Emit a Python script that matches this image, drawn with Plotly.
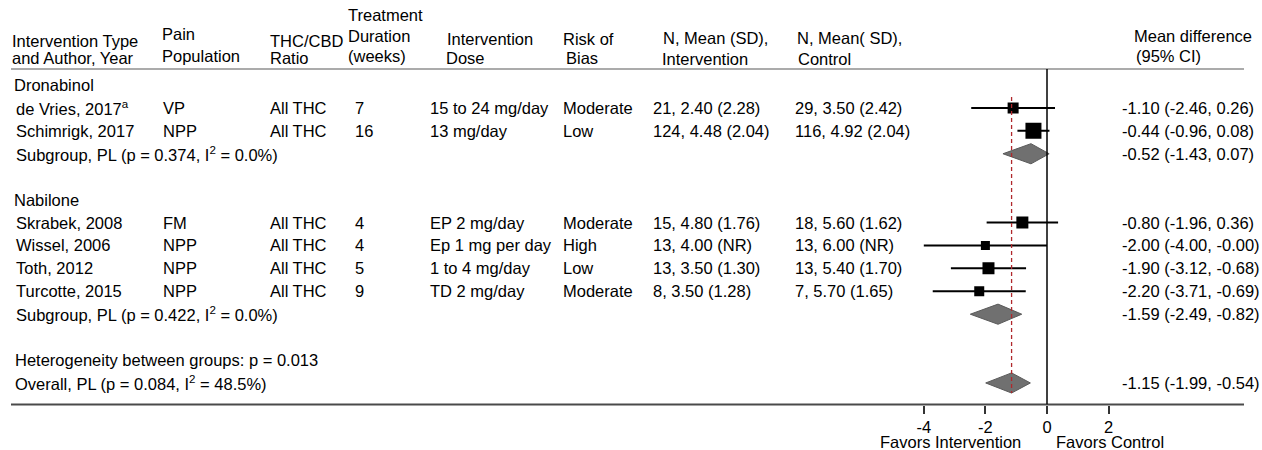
import plotly.graph_objects as go

# ---------------- data ----------------
groups = ["Dronabinol", "Nabilone"]
study = ["de Vries, 2017<sup>a</sup>", "Schimrigk, 2017", "Skrabek, 2008",
         "Wissel, 2006", "Toth, 2012", "Turcotte, 2015"]
study_group = ["Dronabinol", "Dronabinol", "Nabilone", "Nabilone", "Nabilone", "Nabilone"]
pain = ["VP", "NPP", "FM", "NPP", "NPP", "NPP"]
ratio = ["All THC", "All THC", "All THC", "All THC", "All THC", "All THC"]
duration = ["7", "16", "4", "4", "5", "9"]
dose = ["15 to 24 mg/day", "13 mg/day", "EP 2 mg/day", "Ep 1 mg per day",
        "1 to 4 mg/day", "TD 2 mg/day"]
bias = ["Moderate", "Low", "Moderate", "High", "Low", "Moderate"]
int_n = [21, 124, 15, 13, 13, 8]
int_mean = [2.40, 4.48, 4.80, 4.00, 3.50, 3.50]
int_sd = ["2.28", "2.04", "1.76", "NR", "1.30", "1.28"]
ctl_n = [29, 116, 18, 13, 13, 7]
ctl_mean = [3.50, 4.92, 5.60, 6.00, 5.40, 5.70]
ctl_sd = ["2.42", "2.04", "1.62", "NR", "1.70", "1.65"]
md = [-1.10, -0.44, -0.80, -2.00, -1.90, -2.20]
md_lo = [-2.46, -0.96, -1.96, -4.00, -3.12, -3.71]
md_hi = [0.26, 0.08, 0.36, -0.00, -0.68, -0.69]

sub_p = ["0.374", "0.422"]
sub_i2 = ["0.0", "0.0"]
sub_md = [-0.52, -1.59]
sub_lo = [-1.43, -2.49]
sub_hi = [0.07, -0.82]

het_p = "0.013"
overall_p = "0.084"
overall_i2 = "48.5"
overall_md = -1.15
overall_lo = -1.99
overall_hi = -0.54

tick_vals = [-4, -2, 0, 2]
tick_labels = ["-4", "-2", "0", "2"]

# ---------------- styles ----------------
W, H = 1262, 450
FONT = "Liberation Sans, Arial, sans-serif"
FS = 16.5
SQUARE_PX = [11, 16, 12, 9, 12, 10]
ROW0_PX, ROW_H = 85, 22.92
PLOT_BOTTOM_PX = 404.5
ZERO_PX, UNIT_PX = 1047, 30.8
XR = (-5.5, 3.5)


def px(x):
    return x / W


def py(y):
    return 1 - y / H


def fmt_ci(m, l, h):
    return f"{m:.2f} ({l:.2f}, {h:.2f})"


# row layout
r = 0
study_rows = []
sub_rows = []
group_rows = []
for gi, g in enumerate(groups):
    group_rows.append(r)
    r += 1
    for si, sg in enumerate(study_group):
        if sg == g:
            study_rows.append(r)
            r += 1
    sub_rows.append(r)
    r += 2
het_row = r
overall_row = r + 1

fig = go.Figure()

# CI lines + squares
fig.add_trace(go.Scatter(
    x=md, y=study_rows, mode="markers",
    marker=dict(symbol="square", size=SQUARE_PX, color="black", opacity=1,
                line=dict(width=0)),
    error_x=dict(type="data", symmetric=False,
                 array=[h - m for m, h in zip(md, md_hi)],
                 arrayminus=[m - l for m, l in zip(md, md_lo)],
                 width=0, thickness=2, color="black"),
    hoverinfo="skip", showlegend=False))

# diamonds
dx, dy = [], []
HALF = 0.44
for m, l, h, rr in zip(sub_md + [overall_md], sub_lo + [overall_lo],
                       sub_hi + [overall_hi], sub_rows + [overall_row]):
    dx += [l, m, h, m, l, None]
    dy += [rr, rr - HALF, rr, rr + HALF, rr, None]
fig.add_trace(go.Scatter(x=dx, y=dy, mode="lines", fill="toself",
                         fillcolor="#707070", line=dict(color="#5a5a5a", width=1),
                         hoverinfo="skip", showlegend=False))

ann = []


def txt(x, y, t, yref="y", xanchor="left"):
    ann.append(dict(x=px(x), y=y, xref="paper", yref=yref, text=t, showarrow=False,
                    xanchor=xanchor, yanchor="middle",
                    font=dict(family=FONT, size=FS, color="black")))


# headers
hdr = [
    (10, 41, "Intervention Type"), (10, 58, "and Author, Year"),
    (160, 34, "Pain"), (160, 56, "Population"),
    (268, 41, "THC/CBD"), (268, 58, "Ratio"),
    (346, 15, "Treatment"), (346, 36, "Duration"), (346, 56, "(weeks)"),
    (445, 39, "Intervention"), (444, 58, "Dose"),
    (561, 39, "Risk of"), (564, 58, "Bias"),
    (661, 38, "N, Mean (SD),"), (660, 59, "Intervention"),
    (795, 38, "N, Mean( SD),"), (796, 59, "Control"),
    (1132, 36, "Mean difference"), (1134, 56, "(95% CI)"),
]
for x, y, t in hdr:
    txt(x, py(y), t, yref="paper")

for g, rr in zip(groups, group_rows):
    txt(12, rr, g)

for i, rr in enumerate(study_rows):
    txt(14, rr, study[i])
    txt(161, rr, pain[i])
    txt(268, rr, ratio[i])
    txt(353, rr, duration[i])
    txt(428, rr, dose[i])
    txt(561, rr, bias[i])
    txt(651, rr, f"{int_n[i]}, {int_mean[i]:.2f} ({int_sd[i]})")
    txt(793, rr, f"{ctl_n[i]}, {ctl_mean[i]:.2f} ({ctl_sd[i]})")
    txt(1120, rr, fmt_ci(md[i], md_lo[i], md_hi[i]))

for i, rr in enumerate(sub_rows):
    txt(14, rr, f"Subgroup, PL (p = {sub_p[i]}, I<sup>2</sup> = {sub_i2[i]}%)")
    txt(1120, rr, fmt_ci(sub_md[i], sub_lo[i], sub_hi[i]))

txt(13, het_row, f"Heterogeneity between groups: p = {het_p}")
txt(13, overall_row, f"Overall, PL (p = {overall_p}, I<sup>2</sup> = {overall_i2}%)")
txt(1120, overall_row, fmt_ci(overall_md, overall_lo, overall_hi))

# axis captions
txt(950, py(442), "Favors Intervention", yref="paper", xanchor="center")
txt(1110, py(442), "Favors Control", yref="paper", xanchor="center")

y_top = (0 - ROW0_PX) / ROW_H
y_bot = (PLOT_BOTTOM_PX - ROW0_PX) / ROW_H
hdr_rule = (69 - ROW0_PX) / ROW_H

shapes = [
    dict(type="line", xref="paper", yref="y", x0=px(11), x1=px(1244),
         y0=hdr_rule, y1=hdr_rule, line=dict(color="#ababab", width=2)),
    dict(type="line", xref="paper", yref="paper", x0=px(11), x1=px(1244),
         y0=py(PLOT_BOTTOM_PX), y1=py(PLOT_BOTTOM_PX), line=dict(color="#4a4a4a", width=2)),
    dict(type="line", xref="x", yref="y", x0=0, x1=0, y0=hdr_rule, y1=y_bot,
         line=dict(color="black", width=1.5)),
    dict(type="line", xref="x", yref="y", x0=overall_md, x1=overall_md,
         y0=(97 - ROW0_PX) / ROW_H, y1=(393 - ROW0_PX) / ROW_H,
         line=dict(color="#b0282c", width=1.3, dash="4px,3px")),
]

x_d0 = (ZERO_PX + XR[0] * UNIT_PX) / W
x_d1 = (ZERO_PX + XR[1] * UNIT_PX) / W

fig.update_layout(
    width=W, height=H,
    margin=dict(l=0, r=0, t=0, b=0),
    paper_bgcolor="white", plot_bgcolor="white",
    annotations=ann, shapes=shapes,
    xaxis=dict(domain=[x_d0, x_d1], range=list(XR), tickvals=tick_vals,
               ticktext=tick_labels, ticks="outside", ticklen=8, tickwidth=1.5,
               tickcolor="#333", showgrid=False, zeroline=False, showline=False,
               tickfont=dict(family=FONT, size=FS, color="black"), fixedrange=True),
    yaxis=dict(domain=[py(PLOT_BOTTOM_PX), 1], range=[y_bot, y_top], visible=False,
               fixedrange=True),
    showlegend=False,
)

fig.write_html("out.html",
               config={"displayModeBar": False},
               post_script="document.body.style.margin='0';"
                           "document.body.style.overflow='hidden';")
